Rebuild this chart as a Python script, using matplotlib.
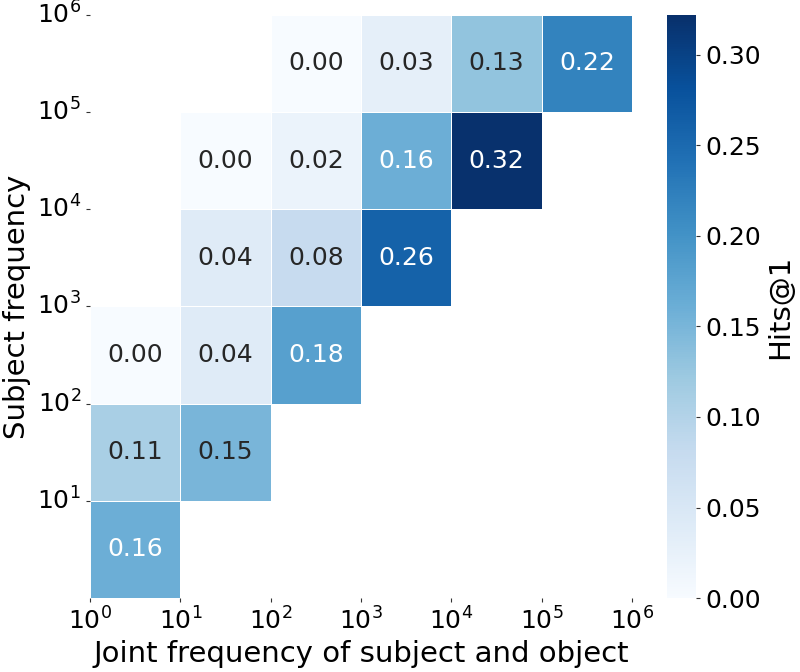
import numpy as np
import matplotlib
matplotlib.use("Agg")
import matplotlib.pyplot as plt
import seaborn as sns

nan = np.nan
# rows: subject frequency bins from 10^5-10^6 (top) down to 10^0-10^1
hits = np.array([
    [nan, nan, 0.00, 0.03, 0.13, 0.22],
    [nan, 0.00, 0.02, 0.16, 0.32, nan],
    [nan, 0.04, 0.08, 0.26, nan, nan],
    [0.00, 0.04, 0.18, nan, nan, nan],
    [0.11, 0.15, nan, nan, nan, nan],
    [0.16, nan, nan, nan, nan, nan],
])
xlabels = [r"$10^{%d}$" % i for i in range(7)]
ylabels = [r"$10^{%d}$" % i for i in range(6, 0, -1)]

fig = plt.figure(figsize=(8, 6.72), dpi=100)
ax = fig.add_axes([0.1125, 0.11, 0.6775, 0.868])
cax = fig.add_axes([0.834, 0.11, 0.036, 0.868])

sns.heatmap(hits, ax=ax, cbar_ax=cax, cmap="Blues", vmin=0, vmax=0.322,
            annot=True, fmt=".2f", annot_kws={"fontsize": 18},
            linewidths=0.5, linecolor="white", mask=np.isnan(hits),
            cbar_kws={"label": "Hits@1"})

ax.set_xticks(np.arange(7))
ax.set_xticklabels(xlabels, fontsize=18, rotation=0)
ax.set_yticks(np.arange(6))
ax.set_yticklabels(ylabels, fontsize=18, rotation=0)
ax.tick_params(length=3, width=0.8, color="#333333")
ax.set_xlabel("Joint frequency of subject and object", fontsize=21)
ax.set_ylabel("Subject frequency", fontsize=21)

cax.tick_params(labelsize=18, length=3, width=0.8, color="#333333")
cax.set_yticks([0, 0.05, 0.10, 0.15, 0.20, 0.25, 0.30])
cax.set_yticklabels(["0.00", "0.05", "0.10", "0.15", "0.20", "0.25", "0.30"])
cax.yaxis.label.set_size(21)

fig.savefig("out.png", dpi=100)
